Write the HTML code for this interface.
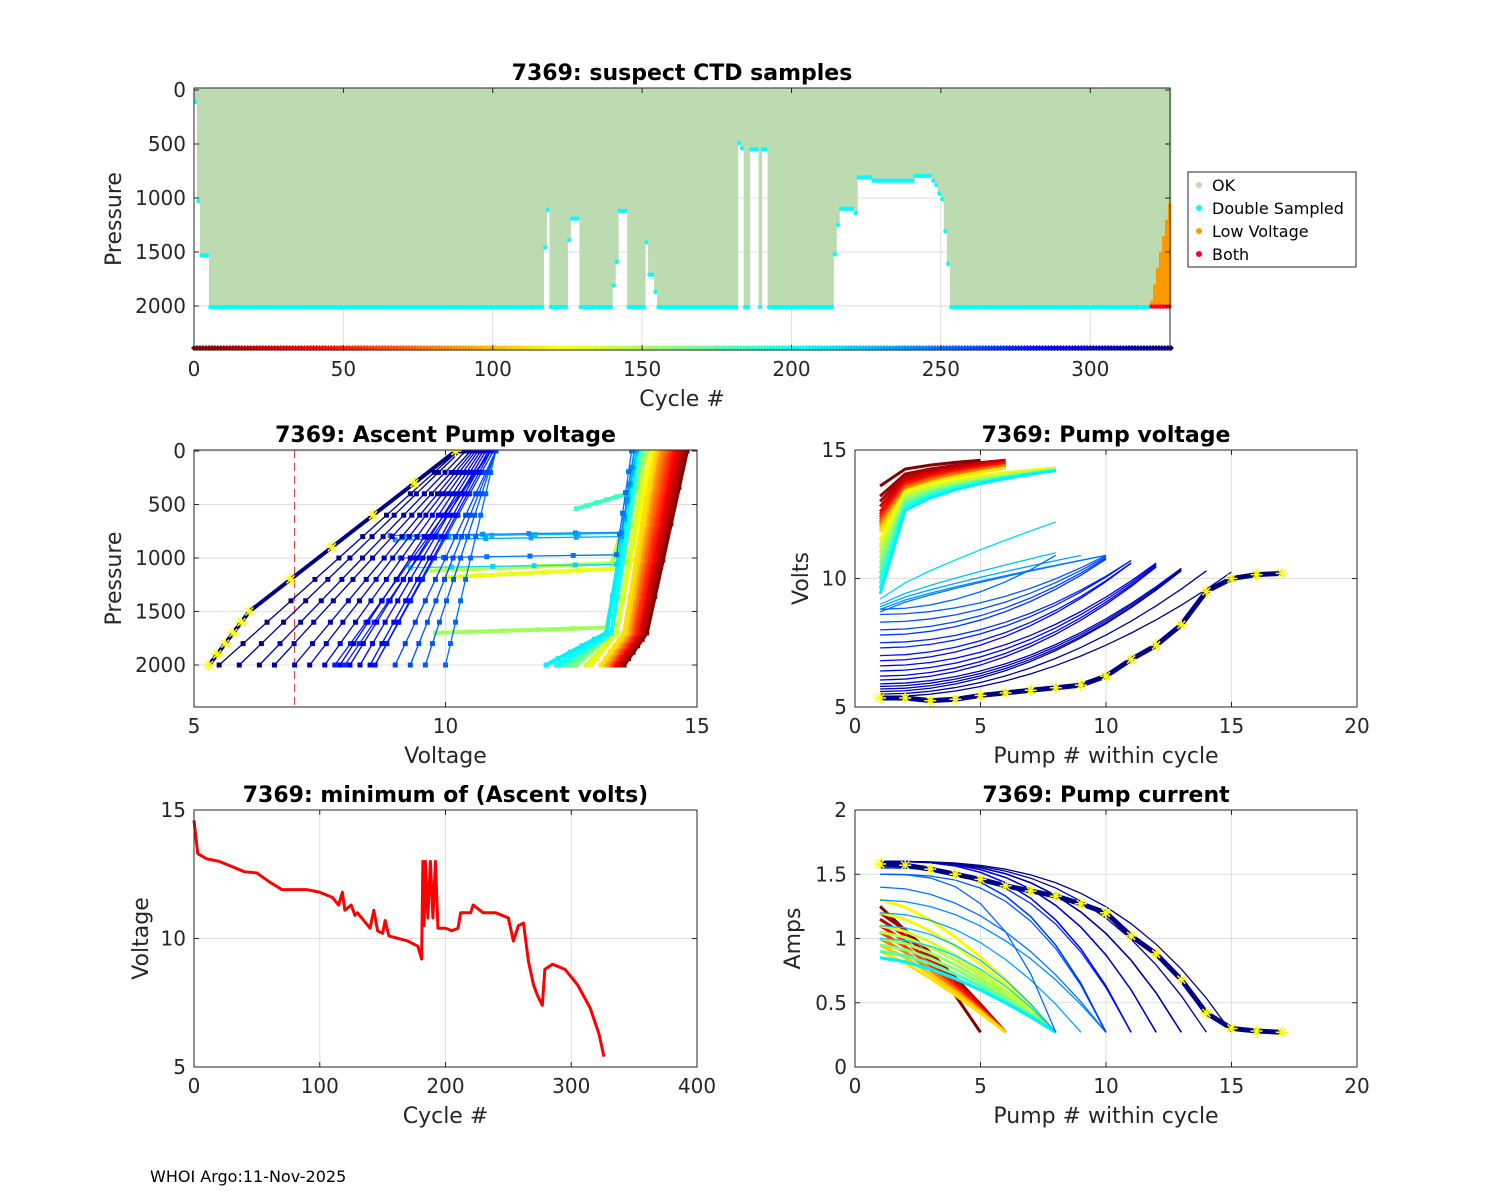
<!DOCTYPE html>
<html><head><meta charset="utf-8"><style>
html,body{margin:0;padding:0;background:#fff;}
svg{display:block;font-family:"DejaVu Sans","Liberation Sans",sans-serif;}
</style></head><body>
<svg id="fig" width="1500" height="1200" viewBox="0 0 1500 1200" xmlns="http://www.w3.org/2000/svg">
<rect width="1500" height="1200" fill="#fff"/>
<g id="top"></g>
<g id="ml"></g>
<g id="mr"></g>
<g id="bl"></g>
<g id="br"></g>
<g>
<rect x="1188" y="172" width="168" height="95" fill="#fff" stroke="#262626" stroke-width="1"/>
<circle cx="1199" cy="185" r="3" fill="#bcdbb0"/><text x="1212" y="191" font-size="16" fill="#000">OK</text>
<circle cx="1199" cy="208" r="3" fill="#00ffff"/><text x="1212" y="214" font-size="16" fill="#000">Double Sampled</text>
<circle cx="1199" cy="231" r="3" fill="#ff9900"/><text x="1212" y="237" font-size="16" fill="#000">Low Voltage</text>
<circle cx="1199" cy="254" r="3" fill="#ff0022"/><text x="1212" y="260" font-size="16" fill="#000">Both</text>
</g>
<text x="150" y="1182" font-size="16" fill="#000">WHOI Argo:11-Nov-2025</text>
</svg>
<script>
// ---------- DATA ----------
const topSegStart = [0,1,2,5,117,118,119,125,126,129,140,141,142,145,151,152,154,155,182,183,184,186,189,190,192,214,215,216,221,222,227,241,247,248,249,250,251,252,253,320,321,322,323,324,325,326];
const topSegEnd   = [0,1,4,116,117,118,124,125,128,139,140,141,144,150,151,153,154,181,182,183,185,188,189,191,213,214,215,220,221,226,240,246,247,248,249,250,251,252,319,320,321,322,323,324,325,326];
const topSegDepth = [100,1020,1520,2000,1450,1100,2000,1380,1180,2000,1800,1580,1110,2000,1400,1700,1860,2000,480,530,2000,540,2000,540,2000,1510,1240,1090,1130,800,830,785,830,870,950,1000,1300,1600,2000,1950,1800,1650,1500,1350,1200,1050];
const lowVoltStart = 320;
const nCycles = 327;

const profCycles = [1,9,17,25,33,41,49,57,65,73,81,89,97,105,113,121,129,137,145,153,161,169,177,185,193,201,209,217,225,233,241,249,253,257,261,265,269,273,277,281,285,289,293,297,301,305,309,313,317,321,325,326];
const mlVBottom = [13.55,13.5,13.45,13.4,13.4,13.35,13.3,13.3,13.25,13.25,13.2,13.2,13.15,13.1,13.1,12.9,10,12.8,9.6,9.8,12.6,12.5,12.4,12.6,12.3,12.2,12.0,9.3,9.2,9.0,8.9,9.1,10.0,9.6,9.3,9.0,8.6,8.0,7.8,8.6,8.5,8.3,8.1,7.9,7.6,7.3,7.0,6.6,6.3,5.9,5.5,5.3];
const mlPBottom = [2000,2000,2000,2000,2000,2000,2000,2000,2000,2000,2000,2000,2000,2000,2000,2000,1180,2000,1120,1700,2000,2000,2000,540,2000,2000,2000,1090,800,830,790,1000,2000,2000,2000,2000,2000,2000,2000,2000,2000,2000,2000,2000,2000,2000,2000,2000,2000,2000,2000,2000];
const mlVKnee = [14.0,13.95,13.9,13.85,13.85,13.8,13.8,13.75,13.7,13.7,13.65,13.65,13.6,13.6,13.55,13.4,13.3,13.4,13.3,13.2,13.3,13.3,13.3,13.6,13.3,13.3,13.2,13.4,13.5,13.5,13.5,13.4,10.5,10.3,10.15,10.0,9.78,9.45,9.35,9.75,9.68,9.55,9.43,9.3,9.13,8.95,8.78,8.55,8.35,8.1,7.88,6.1];
const mlPKnee = [1700,1700,1700,1700,1700,1700,1700,1700,1700,1700,1700,1700,1700,1700,1700,1700,1100,1700,1050,1650,1700,1700,1700,400,1700,1700,1700,1060,770,800,760,970,1000,1000,1000,1000,1000,1000,1000,1000,1000,1000,1000,1000,1000,1000,1000,1000,1000,1000,1000,1500];
const mlVTop = [14.8,14.75,14.7,14.65,14.6,14.55,14.5,14.45,14.4,14.35,14.3,14.25,14.2,14.2,14.15,14.1,14.0,14.0,14.0,13.95,13.9,13.9,13.85,13.85,13.85,13.8,13.8,13.8,13.8,13.75,13.75,13.7,11.0,11.0,11.0,11.0,10.95,10.9,10.9,10.9,10.85,10.8,10.75,10.7,10.65,10.6,10.55,10.5,10.4,10.3,10.25,10.2];

const mrV1 = [13.6,13.2,13.0,12.8,12.6,12.5,12.4,12.3,12.2,12.2,12.1,12.0,12.0,11.9,11.8,11.5,11.3,11.2,11.0,10.8,10.6,10.4,10.2,10.0,9.8,9.6,9.4,9.2,9.0,8.9,8.8,8.7,8.8,8.6,8.3,8.0,7.8,7.5,7.3,7.0,6.8,6.6,6.4,6.2,6.05,5.9,5.8,5.7,5.6,5.5,5.4,5.35];
const mrVEnd = [14.6,14.6,14.6,14.55,14.5,14.5,14.45,14.4,14.4,14.4,14.35,14.3,14.3,14.3,14.3,14.3,14.3,14.25,14.25,14.2,14.2,14.2,14.2,14.2,14.2,14.2,14.2,12.2,11.0,10.9,10.9,10.9,10.9,10.9,10.85,10.8,10.75,10.7,10.7,10.6,10.6,10.6,10.55,10.5,10.45,10.4,10.35,10.3,10.3,10.3,10.25,10.2];
const mrGamma = [0.3,0.3,0.3,0.3,0.3,0.3,0.3,0.3,0.3,0.3,0.3,0.3,0.3,0.3,0.3,0.2,0.2,0.2,0.2,0.2,0.2,0.2,0.2,0.2,0.2,0.2,0.2,0.8,0.8,0.8,0.8,0.8,2,2,2,2,2,2,2,2,2,2,2,2,2,2,2,2,2,2,2,2];
const pumpCount = [5,6,6,6,6,6,6,6,6,6,6,6,6,6,6,8,8,8,8,8,8,8,8,8,8,8,8,8,8,9,10,10,8,10,10,10,10,11,11,11,11,12,12,12,12,13,13,13,13,14,15,17];
const brA1 = [1.25,1.2,1.15,1.15,1.1,1.1,1.05,1.05,1.0,1.0,1.0,0.95,0.95,0.95,0.9,1.3,1.2,1.1,1.05,1.0,0.95,0.9,0.9,0.85,0.85,0.85,0.85,1.0,1.1,1.2,1.3,1.4,1.5,1.5,1.55,1.55,1.55,1.55,1.6,1.6,1.6,1.6,1.6,1.6,1.6,1.6,1.6,1.6,1.6,1.6,1.6,1.58];
const brAEnd = 0.27;
const brGamma = [1.2,1.2,1.2,1.2,1.2,1.2,1.2,1.2,1.2,1.2,1.2,1.2,1.2,1.2,1.2,1.5,1.5,1.5,1.5,1.5,1.5,1.5,1.5,1.5,1.5,1.5,1.5,2,2,2,2,2,3,3,3,3,3,3,3,3,3,3,3,3,3,3,3,3,3,3,3,3];
const lastVolts = [5.35,5.35,5.25,5.3,5.45,5.55,5.65,5.75,5.85,6.2,6.85,7.4,8.2,9.5,10.0,10.15,10.2];
const lastAmps = [1.58,1.57,1.54,1.5,1.46,1.41,1.37,1.33,1.27,1.2,1.02,0.88,0.68,0.42,0.3,0.28,0.27];

const minCycles = [0,3,10,20,30,40,50,60,70,80,90,100,110,115,118,120,125,128,130,140,143,146,150,152,155,170,178,181,182,183,184,186,188,190,192,194,200,205,210,212,220,222,230,240,250,254,258,262,266,270,273,275,277,279,285,295,305,315,322,326];
const minVolts = [14.6,13.3,13.1,13.0,12.8,12.6,12.55,12.2,11.9,11.9,11.9,11.8,11.6,11.3,11.8,11.1,11.3,10.9,11.0,10.4,11.1,10.3,10.2,10.7,10.1,9.9,9.7,9.2,13.0,10.5,13.0,10.8,13.0,10.8,13.0,10.4,10.4,10.3,10.4,11.0,11.0,11.3,11.0,11.0,10.8,9.9,10.5,10.6,9.1,8.2,7.8,7.6,7.4,8.8,9.0,8.8,8.2,7.3,6.3,5.4];

const topXTicks=[0,50,100,150,200,250,300], topYTicks=[0,500,1000,1500,2000];
const mlXTicks=[5,10,15], mlYTicks=[0,500,1000,1500,2000];
const pumpXTicks=[0,5,10,15,20], mrYTicks=[5,10,15];
const blXTicks=[0,100,200,300,400], blYTicks=[5,10,15];
const brYTicks=[0,0.5,1,1.5,2];

// ---------- HELPERS ----------
const NS="http://www.w3.org/2000/svg";
function mk(parent, tag, attrs){const e=document.createElementNS(NS,tag);for(const k in attrs)e.setAttribute(k,attrs[k]);parent.appendChild(e);return e;}
function clamp(v){return Math.max(0,Math.min(1,v));}
function jet(t){const r=clamp(1.5-Math.abs(4*t-3)),g=clamp(1.5-Math.abs(4*t-2)),b=clamp(1.5-Math.abs(4*t-1));return `rgb(${Math.round(r*255)},${Math.round(g*255)},${Math.round(b*255)})`;}
function cycColor(c){return jet(1-c/nCycles);}

function axes(g, L,T,R,B, sx, sy, xt, yt){
  const gg=mk(g,'g',{});
  
  
  xt.forEach(v=>{const x=sx(v);mk(gg,'line',{x1:x,x2:x,y1:T,y2:B,stroke:'#dfdfdf','stroke-width':1});});
  yt.forEach(v=>{const y=sy(v);mk(gg,'line',{x1:L,x2:R,y1:y,y2:y,stroke:'#dfdfdf','stroke-width':1});});
  return gg;
}
function frame(g, L,T,R,B, sx, sy, xt, yt, xlab, ylab, title){
  const f=mk(g,'g',{});
  
  
  mk(f,'rect',{x:L,y:T,width:R-L,height:B-T,fill:'none',stroke:'#262626','stroke-width':1});
  xt.forEach(v=>{const x=sx(v);
    mk(f,'line',{x1:x,x2:x,y1:B,y2:B-5,stroke:'#262626'});mk(f,'line',{x1:x,x2:x,y1:T,y2:T+5,stroke:'#262626'});
    const t=mk(f,'text',{x:x,y:B+26,'text-anchor':'middle','font-size':20,fill:'#262626'});t.textContent=v;
    
    });
  yt.forEach(v=>{const y=sy(v);
    mk(f,'line',{x1:L,x2:L+5,y1:y,y2:y,stroke:'#262626'});mk(f,'line',{x1:R,x2:R-5,y1:y,y2:y,stroke:'#262626'});
    const t=mk(f,'text',{x:L-8,y:y+7,'text-anchor':'end','font-size':20,fill:'#262626'});t.textContent=v;
    
    });
  const xl=mk(f,'text',{x:(L+R)/2,y:B+56,'text-anchor':'middle','font-size':22,fill:'#262626'});xl.textContent=xlab;
  
  
  const yx=ylab.x, yy=(T+B)/2;
  const yl=mk(f,'text',{x:yx,y:yy,'text-anchor':'middle','font-size':22,fill:'#262626',transform:`rotate(-90 ${yx} ${yy})`});yl.textContent=ylab.t;
  
  
  const tt=mk(f,'text',{x:(L+R)/2,y:T-8,'text-anchor':'middle','font-size':22,'font-weight':'bold',fill:'#000'});tt.textContent=title;
  
  
}
function star(g,x,y){const s=6;mk(g,'path',{d:`M${x-s} ${y}H${x+s}M${x} ${y-s}V${y+s}M${x-4} ${y-4}L${x+4} ${y+4}M${x-4} ${y+4}L${x+4} ${y-4}`,stroke:'#ffff00','stroke-width':1.5,fill:'none'});}

// ---------- TOP PANEL ----------
(function(){
  const g=document.getElementById('top');
  const L=194,T=88,R=1170,B=350;
  const sx=c=>L+c*(R-L)/326.7, sy=p=>90+p*0.108;
  axes(g,L,T,R,B,sx,sy,topXTicks,topYTicks);
  const d=mk(g,'g',{});
  
  
  const w=(R-L)/326.7;
  for(let i=0;i<topSegStart.length;i++){
    for(let c=topSegStart[i];c<=topSegEnd[i];c++){
      const dep=topSegDepth[i];
      const x=sx(c);
      const gr=mk(d,'rect',{x:x,y:T,width:w+0.5,height:sy(dep)-T,fill:'#bcdbb0'});
      
      
      if(c>=lowVoltStart){
        const o=mk(d,'rect',{x:x,y:sy(dep),width:w+0.5,height:sy(2000)-sy(dep),fill:'#ff9900'});
        
        
        const r=mk(d,'circle',{cx:x+w/2,cy:sy(2005),r:2.2,fill:'#ff0022'});
        
        
      } else {
        const cy=mk(d,'circle',{cx:x+w/2,cy:sy(dep+10),r:2.2,fill:'#00ffff'});
        
        
      }
    }
  }
  const strip=mk(g,'g',{});
  
  
  for(let c=0;c<=nCycles;c++){
    const x=sx(c);
    mk(strip,'path',{d:`M${x-3} 348L${x} 345L${x+3} 348L${x} 351Z`,fill:cycColor(c)});
  }
  frame(g,L,T,R,B,sx,sy,topXTicks,topYTicks,'Cycle #',{x:121,t:'Pressure'},'7369: suspect CTD samples');
})();

// ---------- MIDDLE LEFT ----------
(function(){
  const g=document.getElementById('ml');
  const L=194,T=450,R=697,B=707;
  const sx=v=>L+(v-5)*(R-L)/10, sy=p=>451+p*0.107;
  axes(g,L,T,R,B,sx,sy,mlXTicks,mlYTicks);
  const cp=mk(mk(g,'defs',{}),'clipPath',{id:'clipml'});mk(cp,'rect',{x:L,y:T,width:R-L,height:B-T});
  const cl=mk(g,'g',{'clip-path':'url(#clipml)'});
  const ref=mk(cl,'line',{x1:sx(7),x2:sx(7),y1:T,y2:B,stroke:'#cc3333','stroke-dasharray':'8,5','stroke-width':1});
  
  
  profCycles.forEach((c,i)=>{
    const col=cycColor(c);
    const pts=[[mlVBottom[i],mlPBottom[i]],[mlVKnee[i],mlPKnee[i]],[mlVTop[i],0]];
    const last=i===profCycles.length-1;
    const wide=i<27?4:1.3;
    const pl=mk(cl,'polyline',{points:pts.map(p=>sx(p[0])+','+sy(p[1])).join(' '),fill:'none',stroke:col,'stroke-width':last?4:wide,'stroke-linejoin':'round'});
    
    
    const n=10;
    for(let k=0;k<=n;k++){
      const f=k/n*2; let v,p;
      if(f<=1){v=pts[0][0]+(pts[1][0]-pts[0][0])*f;p=pts[0][1]+(pts[1][1]-pts[0][1])*f;}
      else{v=pts[1][0]+(pts[2][0]-pts[1][0])*(f-1);p=pts[1][1]+(pts[2][1]-pts[1][1])*(f-1);}
      if(last) star(cl,sx(v),sy(p));
      else mk(cl,'rect',{x:sx(v)-2.5,y:sy(p)-2.5,width:5,height:5,fill:col});
    }
  });
  frame(g,L,T,R,B,sx,sy,mlXTicks,mlYTicks,'Voltage',{x:121,t:'Pressure'},'7369: Ascent Pump voltage');
})();

// ---------- MIDDLE RIGHT ----------
(function(){
  const g=document.getElementById('mr');
  const L=855,T=450,R=1357,B=707;
  const sx=k=>L+k*(R-L)/20, sy=v=>B-(v-5)*(B-T)/10;
  axes(g,L,T,R,B,sx,sy,pumpXTicks,mrYTicks);
  profCycles.forEach((c,i)=>{
    const col=cycColor(c), N=pumpCount[i], last=i===profCycles.length-1;
    const pts=[];
    for(let k=1;k<=N;k++){
      const v= last? lastVolts[k-1] : mrV1[i]+(mrVEnd[i]-mrV1[i])*Math.pow((k-1)/(N-1),mrGamma[i]);
      pts.push(sx(k)+','+sy(v));
    }
    const pl=mk(g,'polyline',{points:pts.join(' '),fill:'none',stroke:col,'stroke-width':last?5:(i<27?3:1.3)});
    
    
    if(last) pts.forEach(p=>{const [x,y]=p.split(',').map(Number);star(g,x,y);});
  });
  frame(g,L,T,R,B,sx,sy,pumpXTicks,mrYTicks,'Pump # within cycle',{x:808,t:'Volts'},'7369: Pump voltage');
})();

// ---------- BOTTOM LEFT ----------
(function(){
  const g=document.getElementById('bl');
  const L=194,T=810,R=697,B=1067;
  const sx=c=>L+c*(R-L)/400, sy=v=>B-(v-5)*(B-T)/10;
  axes(g,L,T,R,B,sx,sy,blXTicks,blYTicks);
  const pl=mk(g,'polyline',{points:minCycles.map((c,i)=>sx(c)+','+sy(minVolts[i])).join(' '),fill:'none',stroke:'#ff0000','stroke-width':3,'stroke-linejoin':'round'});
  
  
  frame(g,L,T,R,B,sx,sy,blXTicks,blYTicks,'Cycle #',{x:148,t:'Voltage'},'7369: minimum of (Ascent volts)');
})();

// ---------- BOTTOM RIGHT ----------
(function(){
  const g=document.getElementById('br');
  const L=855,T=810,R=1357,B=1067;
  const sx=k=>L+k*(R-L)/20, sy=a=>B-a*(B-T)/2;
  axes(g,L,T,R,B,sx,sy,pumpXTicks,brYTicks);
  profCycles.forEach((c,i)=>{
    const col=cycColor(c), N=pumpCount[i], last=i===profCycles.length-1;
    const pts=[];
    for(let k=1;k<=N;k++){
      const a= last? lastAmps[k-1] : brA1[i]-(brA1[i]-brAEnd)*Math.pow((k-1)/(N-1),brGamma[i]);
      pts.push(sx(k)+','+sy(a));
    }
    const pl=mk(g,'polyline',{points:pts.join(' '),fill:'none',stroke:col,'stroke-width':last?5:(i<27?3:1.3)});
    
    
    if(last) pts.forEach(p=>{const [x,y]=p.split(',').map(Number);star(g,x,y);});
  });
  frame(g,L,T,R,B,sx,sy,pumpXTicks,brYTicks,'Pump # within cycle',{x:800,t:'Amps'},'7369: Pump current');
})();
</script>
</body></html>
